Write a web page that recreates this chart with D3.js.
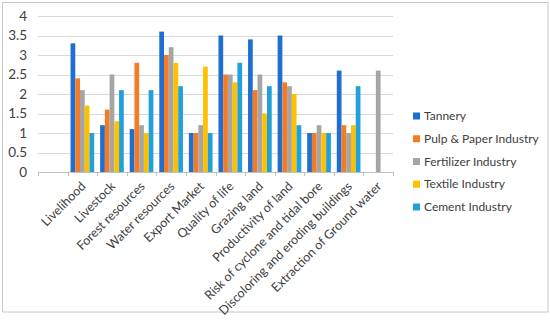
<!DOCTYPE html>
<html>
<head>
<meta charset="utf-8">
<script src="https://cdn.jsdelivr.net/npm/d3@7"></script>
<style>
  html, body { margin: 0; padding: 0; background: #fff; }
  svg text { font-family: Lato, "Open Sans", sans-serif; fill: #404040; }
</style>
</head>
<body>
<div id="chart"></div>
<script>
// categories (the first slot is empty in the original chart)
const categories = ["", "Livelihood", "Livestock", "Forest resources", "Water resources",
  "Export Market", "Quality of life", "Grazing land", "Productivity of land",
  "Risk of cyclone and tidal bore", "Discoloring and eroding buildings", "Extraction of Ground water"];

const seriesNames = ["Tannery", "Pulp & Paper Industry", "Fertilizer Industry", "Textile Industry", "Cement Industry"];
const seriesColors = ["#1f6fd0", "#f47b25", "#a5a5a5", "#ffc000", "#22a0dc"];

const tannery    = [0, 3.3, 1.2, 1.1, 3.6, 1.0, 3.5, 3.4, 3.5, 1.0, 2.6, 0];
const pulpPaper  = [0, 2.4, 1.6, 2.8, 3.0, 1.0, 2.5, 2.1, 2.3, 1.0, 1.2, 0];
const fertilizer = [0, 2.1, 2.5, 1.2, 3.2, 1.2, 2.5, 2.5, 2.2, 1.2, 1.0, 2.6];
const textile    = [0, 1.7, 1.3, 1.0, 2.8, 2.7, 2.3, 1.5, 2.0, 1.0, 1.2, 0];
const cement     = [0, 1.0, 2.1, 2.1, 2.2, 1.0, 2.8, 2.2, 1.2, 1.0, 2.2, 0];

const yTicks = [0, 0.5, 1, 1.5, 2, 2.5, 3, 3.5, 4];

const allSeries = [tannery, pulpPaper, fertilizer, textile, cement];

const W = 550, H = 323;
const plot = {left: 38, right: 393, top: 16, bottom: 172};

const svg = d3.select("#chart").append("svg")
  .attr("width", W)
  .attr("height", H);

// outer frame
svg.append("rect")
  .attr("x", 2.5).attr("y", 2.5)
  .attr("width", 545.5).attr("height", 309.5)
  .attr("fill", "none")
  .attr("stroke", "#c8c8c8");

const x0 = d3.scaleBand()
  .domain(categories.map((c, i) => i))
  .range([plot.left, plot.right])
  .paddingInner(0).paddingOuter(0);

const pad = x0.bandwidth() * 0.1;
const x1 = d3.scaleBand()
  .domain(seriesNames)
  .range([pad, x0.bandwidth() - pad]);

const y = d3.scaleLinear().domain([0, 4]).range([plot.bottom, plot.top]);

// gridlines
svg.append("g")
  .selectAll("line")
  .data(yTicks.slice(1))
  .join("line")
  .attr("x1", plot.left).attr("x2", plot.right)
  .attr("y1", d => Math.round(y(d)) + 0.5)
  .attr("y2", d => Math.round(y(d)) + 0.5)
  .attr("stroke", "#d9d9d9");

// y axis labels
svg.append("g")
  .selectAll("text")
  .data(yTicks)
  .join("text")
  .attr("x", 27)
  .attr("y", d => y(d))
  .attr("dy", "0.35em")
  .attr("text-anchor", "end")
  .style("font-size", "13.5px")
  .text(d => d);

// bars
const rows = categories.map((c, i) => ({i, values: allSeries.map((s, k) => ({name: seriesNames[k], color: seriesColors[k], v: s[i]}))}));

svg.append("g")
  .selectAll("g")
  .data(rows)
  .join("g")
  .attr("transform", d => `translate(${x0(d.i)},0)`)
  .selectAll("rect")
  .data(d => d.values.filter(v => v.v > 0))
  .join("rect")
  .attr("x", d => x1(d.name))
  .attr("width", x1.bandwidth())
  .attr("y", d => y(d.v))
  .attr("height", d => y(0) - y(d.v))
  .attr("fill", d => d.color);

// x axis line and ticks
const axis = svg.append("g");
axis.append("line")
  .attr("x1", plot.left).attr("x2", plot.right)
  .attr("y1", plot.bottom + 0.5).attr("y2", plot.bottom + 0.5)
  .attr("stroke", "#bfbfbf");
axis.selectAll("line.tick")
  .data(d3.range(categories.length + 1))
  .join("line")
  .attr("class", "tick")
  .attr("x1", i => Math.round(plot.left + i * x0.bandwidth()) + 0.5)
  .attr("x2", i => Math.round(plot.left + i * x0.bandwidth()) + 0.5)
  .attr("y1", plot.bottom)
  .attr("y2", plot.bottom + 4)
  .attr("stroke", "#bfbfbf");

// rotated category labels
svg.append("g")
  .selectAll("text")
  .data(rows.filter(d => categories[d.i] !== ""))
  .join("text")
  .attr("transform", d => `translate(${x0(d.i) + x0.bandwidth() / 2 + 1},${plot.bottom + 12}) rotate(-45)`)
  .attr("text-anchor", "end")
  .attr("dy", "0.35em")
  .style("font-size", "12.5px")
  .text(d => categories[d.i]);

// legend
const legend = svg.append("g")
  .selectAll("g")
  .data(seriesNames)
  .join("g")
  .attr("transform", (d, i) => `translate(413,${116 + i * 22.75})`);

legend.append("rect")
  .attr("x", 0).attr("y", -3.5)
  .attr("width", 7).attr("height", 7)
  .attr("fill", (d, i) => seriesColors[i]);

legend.append("text")
  .attr("x", 11)
  .attr("dy", "0.35em")
  .style("font-size", "12px")
  .text(d => d);
</script>
</body>
</html>
